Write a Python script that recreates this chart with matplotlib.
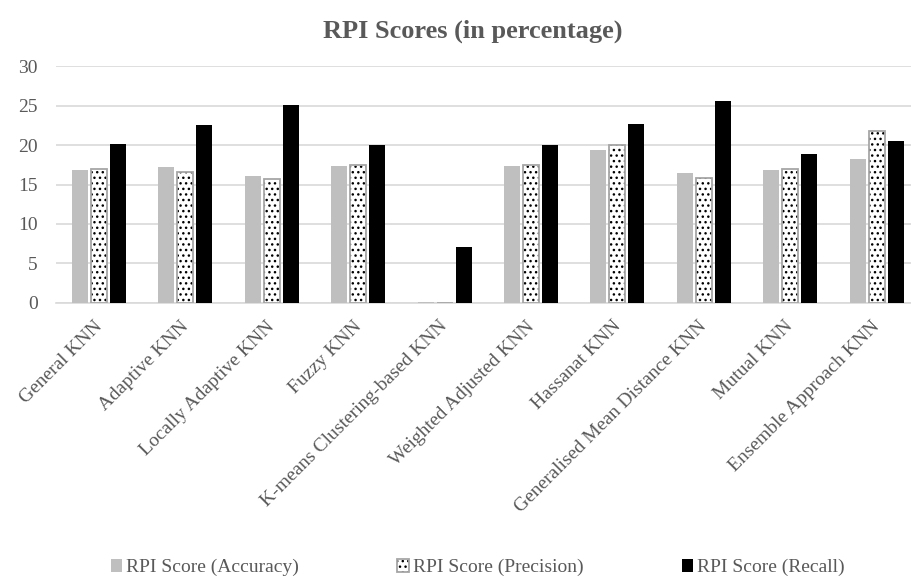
import matplotlib.pyplot as plt
import numpy as np
import matplotlib.transforms as mtransforms
from matplotlib.legend_handler import HandlerTuple

plt.rcParams['font.family'] = ['Liberation Serif', 'DejaVu Serif']

categories = ["General KNN", "Adaptive KNN", "Locally Adaptive KNN", "Fuzzy KNN",
              "K-means Clustering-based KNN", "Weighted Adjusted KNN", "Hassanat KNN",
              "Generalised Mean Distance KNN", "Mutual KNN", "Ensemble Approach KNN"]
accuracy = [16.8, 17.2, 16.05, 17.3, 0.1, 17.3, 19.4, 16.4, 16.85, 18.25]
precision = [17.0, 16.6, 15.75, 17.5, 0.0, 17.5, 20.0, 15.8, 17.0, 21.85]
recall = [20.1, 22.5, 25.1, 20.0, 7.0, 20.0, 22.7, 25.6, 18.9, 20.5]

grey = '#595959'
fig = plt.figure(figsize=(9.12, 5.78), dpi=100)
# axes spans from x=55.8px to the right edge; one category = 86.4 px
ax = fig.add_axes([55.8 / 912, 1 - 302.5 / 578, (911 - 55.8) / 912, 236 / 578])

x = np.arange(len(categories))
w = 0.185
step = 0.22

b1 = ax.bar(x - step, accuracy, w, color='#BFBFBF', zorder=3)
b2 = ax.bar(x, precision, w, color='white', edgecolor='black', linewidth=0,
            hatch='...', zorder=3)
b2o = ax.bar(x, precision, w, fill=False, edgecolor='#A6A6A6', linewidth=1.3, zorder=4)
b3 = ax.bar(x + step, recall, w, color='black', zorder=3)

ax.set_ylim(0, 30)
ax.set_yticks(range(0, 31, 5))
ax.set_xlim(-0.5, -0.5 + (911 - 55.8) / 86.4)
ax.yaxis.grid(True, color='#D9D9D9', linewidth=1.2, zorder=0)
for s in ['top', 'right', 'left']:
    ax.spines[s].set_visible(False)
ax.spines['bottom'].set_color('#D9D9D9')
ax.spines['bottom'].set_linewidth(1.2)
ax.tick_params(axis='both', length=0, colors=grey, labelsize=14)
ax.tick_params(axis='y', pad=13)
ax.tick_params(axis='x', pad=11)
ax.set_xticks(x)
ax.set_xticklabels(categories, rotation=45, ha='right', rotation_mode='anchor')
shift = mtransforms.ScaledTranslation(-4 / 72, 0, fig.dpi_scale_trans)
for lab in ax.get_xticklabels():
    lab.set_transform(lab.get_transform() + shift)

fig.text(0.518, 1 - 31 / 578, "RPI Scores (in percentage)", ha='center', va='center',
         fontsize=19, fontweight='bold', color=grey)

fig.legend([b1, (b2, b2o), b3],
           ["RPI Score (Accuracy)", "RPI Score (Precision)", "RPI Score (Recall)"],
           handler_map={tuple: HandlerTuple(ndivide=1)},
           loc='center', bbox_to_anchor=(0.524, 0.018), ncol=3, frameon=False,
           fontsize=14, labelcolor=grey, handlelength=0.6, handleheight=0.6,
           handletextpad=0.2, columnspacing=5.05)

fig.savefig("out.png", dpi=100)
